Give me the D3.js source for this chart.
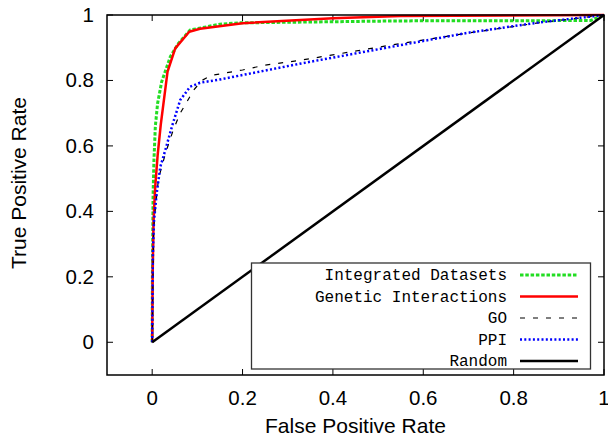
<!DOCTYPE html>
<html>
<head>
<meta charset="utf-8">
<script src="https://cdn.jsdelivr.net/npm/d3@7"></script>
<style>
  html, body { margin: 0; padding: 0; background: #fff; }
  svg { display: block; }
  .tick-label { font-family: "Liberation Sans", Arial, Helvetica, sans-serif; font-size: 20.5px; fill: #000; }
  .axis-title { font-family: "Liberation Sans", Arial, Helvetica, sans-serif; font-size: 21px; fill: #000; }
  .legend-label { font-family: "Courier New", "Liberation Mono", monospace; font-size: 16px; fill: #000; }
</style>
</head>
<body>
<div id="chart"></div>
<script>
const xTicks = [0, 0.2, 0.4, 0.6, 0.8, 1];
const yTicks = [0, 0.2, 0.4, 0.6, 0.8, 1];
const xTickLabels = ['0', '0.2', '0.4', '0.6', '0.8', '1'];
const yTickLabels = ['0', '0.2', '0.4', '0.6', '0.8', '1'];

// ROC points (FPR, TPR)
const integratedFpr = [0, 0.0005, 0.002, 0.004, 0.007, 0.012, 0.021, 0.04, 0.058, 0.084, 0.15, 0.195, 0.55, 0.97, 1];
const integratedTpr = [0, 0.2, 0.45, 0.56, 0.66, 0.73, 0.796, 0.872, 0.913, 0.954, 0.972, 0.976, 0.982, 0.983, 1];

const geneticFpr = [0, 0.001, 0.003, 0.0067, 0.012, 0.019, 0.034, 0.051, 0.082, 0.106, 0.2, 0.4, 0.55, 1];
const geneticTpr = [0, 0.2, 0.37, 0.475, 0.57, 0.665, 0.827, 0.898, 0.949, 0.958, 0.975, 0.99, 0.997, 1];

const goFpr = [0, 0.003, 0.007, 0.014, 0.03, 0.047, 0.062, 0.077, 0.092, 0.11, 0.13, 0.2, 0.25, 0.33, 0.42, 0.55, 0.7, 0.85, 1];
const goTpr = [0, 0.34, 0.41, 0.5, 0.58, 0.65, 0.7, 0.735, 0.771, 0.8, 0.815, 0.832, 0.847, 0.862, 0.883, 0.913, 0.945, 0.975, 1];

const ppiFpr = [0, 0.0015, 0.004, 0.01, 0.018, 0.029, 0.045, 0.062, 0.084, 0.106, 0.15, 0.33, 0.55, 0.7, 0.845, 1];
const ppiTpr = [0, 0.27, 0.37, 0.455, 0.536, 0.587, 0.665, 0.74, 0.781, 0.793, 0.803, 0.852, 0.908, 0.946, 0.975, 1];

const randomFpr = [0, 1];
const randomTpr = [0, 1];

const seriesNames = ['Integrated Datasets', 'Genetic Interactions', 'GO', 'PPI', 'Random'];

const width = 608, height = 440;
const margin = { top: 15, right: 4, bottom: 65, left: 107 };

const svg = d3.select('#chart').append('svg').attr('width', width).attr('height', height);

const x = d3.scaleLinear().domain([-0.1, 1]).range([margin.left, width - margin.right]);
const y = d3.scaleLinear().domain([-0.1, 1]).range([height - margin.bottom, margin.top]);

const styles = [
  { color: '#22dd22', width: 3, dash: '3.5,1.8' },
  { color: '#ff0000', width: 2.5, dash: null },
  { color: '#000', width: 1.2, dash: '5,8' },
  { color: '#0000ff', width: 2.5, dash: '2,2.3' },
  { color: '#000', width: 2.5, dash: null }
];

const series = [
  [integratedFpr, integratedTpr],
  [geneticFpr, geneticTpr],
  [goFpr, goTpr],
  [ppiFpr, ppiTpr],
  [randomFpr, randomTpr]
].map(([fx, ty], i) => ({ name: seriesNames[i], style: styles[i], points: fx.map((v, j) => [v, ty[j]]) }));

// ticks on all four sides, pointing inward
const tickLen = 6;
const grid = svg.append('g').attr('stroke', '#000').attr('stroke-width', 1);
xTicks.forEach((t) => {
  grid.append('line').attr('x1', x(t)).attr('x2', x(t)).attr('y1', y(-0.1)).attr('y2', y(-0.1) - tickLen);
  grid.append('line').attr('x1', x(t)).attr('x2', x(t)).attr('y1', y(1)).attr('y2', y(1) + tickLen);
});
yTicks.forEach((t) => {
  grid.append('line').attr('x1', x(-0.1)).attr('x2', x(-0.1) + tickLen).attr('y1', y(t)).attr('y2', y(t));
  grid.append('line').attr('x1', x(1)).attr('x2', x(1) - tickLen).attr('y1', y(t)).attr('y2', y(t));
});

svg.selectAll('text.xtick')
  .data(xTicks)
  .join('text')
  .attr('class', 'tick-label xtick')
  .attr('x', (d) => x(d))
  .attr('y', y(-0.1) + 29.5)
  .attr('text-anchor', 'middle')
  .text((d, i) => xTickLabels[i]);

svg.selectAll('text.ytick')
  .data(yTicks)
  .join('text')
  .attr('class', 'tick-label ytick')
  .attr('x', x(-0.1) - 13)
  .attr('y', (d) => y(d) + 7)
  .attr('text-anchor', 'end')
  .text((d, i) => yTickLabels[i]);

svg.append('text')
  .attr('class', 'axis-title')
  .attr('x', (x(-0.1) + x(1)) / 2)
  .attr('y', 433)
  .attr('text-anchor', 'middle')
  .text('False Positive Rate');

svg.append('text')
  .attr('class', 'axis-title')
  .attr('transform', 'translate(26,183) rotate(-90)')
  .attr('text-anchor', 'middle')
  .text('True Positive Rate');

const line = d3.line().x((d) => x(d[0])).y((d) => y(d[1]));

svg.append('g')
  .selectAll('path')
  .data(series)
  .join('path')
  .attr('d', (d) => line(d.points))
  .attr('fill', 'none')
  .attr('stroke', (d) => d.style.color)
  .attr('stroke-width', (d) => d.style.width)
  .attr('stroke-dasharray', (d) => d.style.dash)
  .attr('stroke-linejoin', 'round');

// frame
svg.append('rect')
  .attr('x', x(-0.1))
  .attr('y', y(1))
  .attr('width', x(1) - x(-0.1))
  .attr('height', y(-0.1) - y(1))
  .attr('fill', 'none')
  .attr('stroke', '#000')
  .attr('stroke-width', 1.5);

// legend
const legend = svg.append('g');
legend.append('rect')
  .attr('x', 251.5).attr('y', 263).attr('width', 339).attr('height', 106)
  .attr('fill', '#fff').attr('stroke', '#333').attr('stroke-width', 1.3);

const rows = legend.selectAll('g.row')
  .data(series)
  .join('g')
  .attr('class', 'row')
  .attr('transform', (d, i) => `translate(0,${275 + i * 21.5})`);

rows.append('text')
  .attr('class', 'legend-label')
  .attr('x', 507)
  .attr('y', 5)
  .attr('text-anchor', 'end')
  .text((d) => d.name);

rows.append('line')
  .attr('x1', 520).attr('x2', 578).attr('y1', 0).attr('y2', 0)
  .attr('stroke', (d) => d.style.color)
  .attr('stroke-width', (d) => d.style.width)
  .attr('stroke-dasharray', (d) => d.style.dash);
</script>
</body>
</html>
